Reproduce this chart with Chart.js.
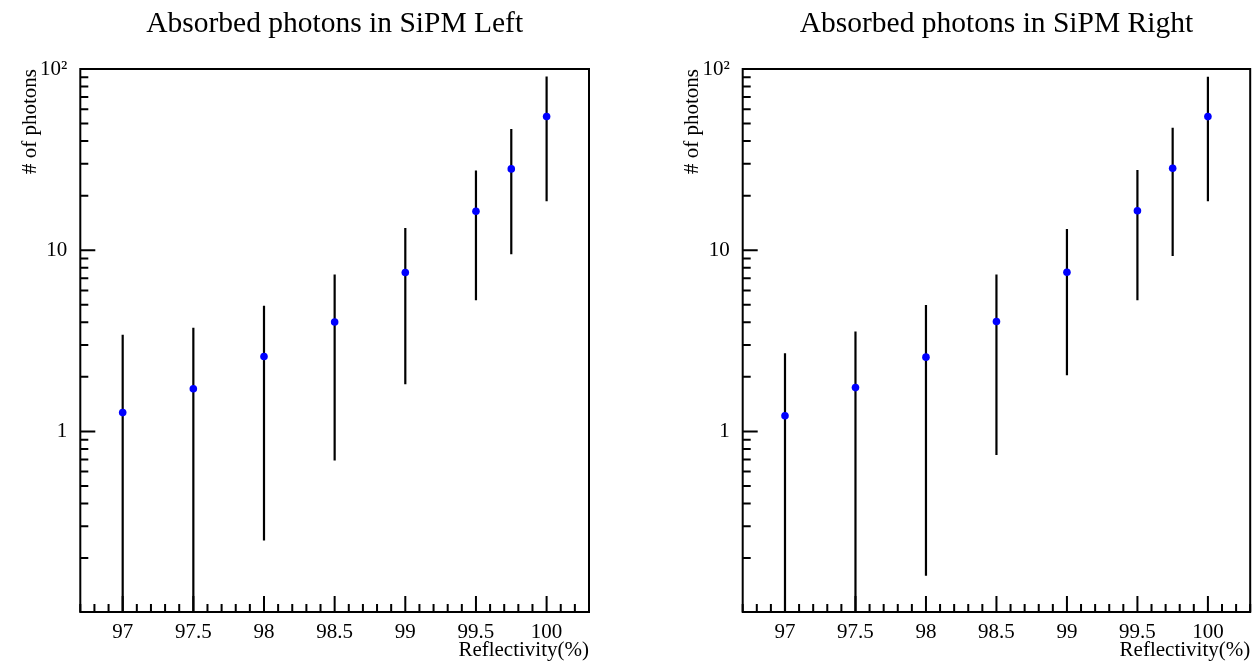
<!DOCTYPE html>
<html><head><meta charset="utf-8">
<script src="https://cdn.jsdelivr.net/npm/chart.js@4.4.1/dist/chart.umd.min.js"></script>
<style>
html,body{margin:0;padding:0;background:#fff;width:1254px;height:662px;overflow:hidden}
.wrap{position:absolute;top:0;width:627px;height:662px}
canvas{display:block}
</style></head><body>
<div class="wrap" style="left:0"><canvas id="cL" width="627" height="662"></canvas></div>
<div class="wrap" style="left:627px"><canvas id="cR" width="627" height="662"></canvas></div>
<script>
const reflectivity = [97, 97.5, 98, 98.5, 99, 99.5, 99.75, 100];
const photonsLeft  = [1.27, 1.72, 2.59, 4.02, 7.54, 16.4, 28.1, 54.7];
const errorsLeft   = [2.15, 2.01, 2.34, 3.33, 5.72, 11.1, 18.6, 36.1];
const photonsRight = [1.22, 1.745, 2.57, 4.04, 7.56, 16.5, 28.35, 54.6];
const errorsRight  = [1.48, 1.81, 2.41, 3.30, 5.52, 11.2, 19.05, 36.0];
const xTickValues = [97, 97.5, 98, 98.5, 99, 99.5, 100];
const xTickLabels = ['97', '97.5', '98', '98.5', '99', '99.5', '100'];
const yTickValues = [1, 10, 100];
const yTickLabels = ['1', '10', '10²'];
const titleLeft = 'Absorbed photons in SiPM Left';
const titleRight = 'Absorbed photons in SiPM Right';
const xTitle = 'Reflectivity(%)';
const yTitle = '# of photons';

const FONT = '"Liberation Serif", "Times New Roman", serif';
Chart.defaults.font.family = FONT;
Chart.defaults.color = '#000';

const rootPlugin = {
  id: 'rootStyle',
  beforeDatasetsDraw(chart, args, opts) {
    const {ctx, chartArea: a, scales: {x, y}} = chart;
    const pts = chart.data.datasets[0].data;
    ctx.save();
    ctx.beginPath();
    ctx.rect(a.left, a.top, a.right - a.left, a.bottom - a.top);
    ctx.clip();
    ctx.strokeStyle = '#000';
    ctx.lineWidth = 2.2;
    pts.forEach((p, i) => {
      const px = x.getPixelForValue(p.x);
      const hi = p.y + opts.errors[i];
      const lo = p.y - opts.errors[i];
      const yTop = y.getPixelForValue(hi);
      const yBot = lo > 0 ? y.getPixelForValue(lo) : a.bottom + 5;
      ctx.beginPath();
      ctx.moveTo(px, yTop);
      ctx.lineTo(px, yBot);
      ctx.stroke();
    });
    ctx.restore();
  },
  afterDraw(chart, args, opts) {
    const {ctx, chartArea: a, scales: {x, y}} = chart;
    ctx.save();
    ctx.strokeStyle = '#000';
    ctx.lineWidth = 2;
    ctx.strokeRect(a.left, a.top, a.right - a.left, a.bottom - a.top);
    ctx.beginPath();
    for (let k = Math.ceil(x.min * 10); k <= Math.floor(x.max * 10); k++) {
      const v = k / 10;
      const px = x.getPixelForValue(v);
      const len = (k % 5 === 0) ? 16 : 8;
      ctx.moveTo(px, a.bottom);
      ctx.lineTo(px, a.bottom - len);
    }
    for (let d = -2; d <= 2; d++) {
      for (let m = 1; m <= 9; m++) {
        const v = m * Math.pow(10, d);
        if (v < y.min * 0.9999 || v > y.max * 1.0001) continue;
        const py = y.getPixelForValue(v);
        const len = (m === 1) ? 15 : 8;
        ctx.moveTo(a.left, py);
        ctx.lineTo(a.left + len, py);
      }
    }
    ctx.stroke();
    ctx.fillStyle = '#000';
    ctx.font = '29.5px ' + FONT;
    ctx.textAlign = 'center';
    ctx.textBaseline = 'alphabetic';
    ctx.fillText(opts.title, (a.left + a.right) / 2, 32);
    ctx.font = '21px ' + FONT;
    ctx.textAlign = 'right';
    ctx.fillText(xTitle, a.right, 656);
    ctx.translate(a.left - 50, a.top);
    ctx.rotate(-Math.PI / 2);
    ctx.textAlign = 'right';
    ctx.textBaseline = 'middle';
    ctx.fillText(yTitle, 0, 0);
    ctx.restore();
  }
};

function makeChart(id, values, errors, title, yAxisWidth, rightPad) {
  const data = reflectivity.map((r, i) => ({x: r, y: values[i]}));
  return new Chart(document.getElementById(id), {
    type: 'scatter',
    data: {datasets: [{
      data: data,
      pointRadius: 3.8,
      pointHoverRadius: 3.8,
      pointBackgroundColor: '#0000ff',
      pointBorderWidth: 0,
      showLine: false
    }]},
    options: {
      responsive: false,
      animation: false,
      events: [],
      layout: {padding: {left: 0, top: 69, right: rightPad, bottom: 0}},
      plugins: {
        legend: {display: false},
        tooltip: {enabled: false},
        title: {display: false},
        rootStyle: {errors: errors, title: title}
      },
      scales: {
        x: {
          type: 'linear',
          min: 96.7, max: 100.3,
          grid: {display: false},
          border: {display: false},
          afterBuildTicks: s => { s.ticks = xTickValues.map(v => ({value: v})); },
          afterFit: s => { s.height = 50; },
          ticks: {
            autoSkip: false, maxRotation: 0, padding: 0,
            font: {size: 21, family: FONT}, color: '#000',
            callback: (v) => { const i = xTickValues.indexOf(v); return i >= 0 ? xTickLabels[i] : ''; }
          }
        },
        y: {
          type: 'logarithmic',
          min: 0.1008, max: 100,
          grid: {display: false},
          border: {display: false},
          afterBuildTicks: s => { s.ticks = yTickValues.map(v => ({value: v})); },
          afterFit: s => { s.width = yAxisWidth; },
          ticks: {
            autoSkip: false, padding: 5,
            font: {size: 21, family: FONT}, color: '#000',
            callback: (v) => { const i = yTickValues.indexOf(v); return i >= 0 ? yTickLabels[i] : ''; }
          }
        }
      }
    },
    plugins: [rootPlugin]
  });
}

makeChart('cL', photonsLeft, errorsLeft, titleLeft, 80.3, 38);
makeChart('cR', photonsRight, errorsRight, titleRight, 115.7, 3.4);
</script>
</body></html>
